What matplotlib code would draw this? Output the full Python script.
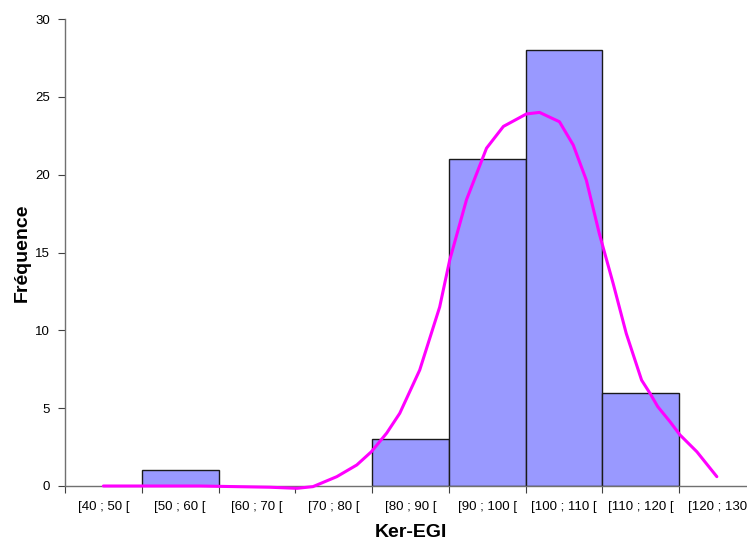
import matplotlib
matplotlib.use("Agg")
import matplotlib.pyplot as plt
import numpy as np

plt.rcParams['font.family'] = ['Liberation Sans', 'DejaVu Sans']

# histogram classes (Ker-EGI) and counts
bin_edges = [40, 50, 60, 70, 80, 90, 100, 110, 120, 130]
class_labels = ["[40 ; 50 [", "[50 ; 60 [", "[60 ; 70 [", "[70 ; 80 [", "[80 ; 90 [",
                "[90 ; 100 [", "[100 ; 110 [", "[110 ; 120 [", "[120 ; 130"]
counts = [0, 1, 0, 0, 3, 21, 28, 6, 0]

# fitted curve
curve_x = [45.0, 57.6, 66.7, 70.2, 72.3, 75.4, 78.0, 79.9, 81.9, 83.6, 86.2, 88.8,
           90.1, 92.3, 94.9, 97.1, 100.1, 101.8, 104.4, 106.2, 107.9, 109.6, 111.4,
           113.1, 115.1, 116.2, 117.2, 118.8, 120.1, 122.3, 124.9]
curve_y = [0.0, 0.0, -0.08, -0.15, -0.04, 0.6, 1.35, 2.2, 3.4, 4.67, 7.45, 11.5,
           14.5, 18.4, 21.7, 23.1, 23.9, 24.0, 23.4, 21.9, 19.65, 16.2, 13.0,
           9.8, 6.8, 5.95, 5.1, 4.13, 3.28, 2.2, 0.6]

fig = plt.figure(figsize=(7.47, 5.44), dpi=100)
ax = fig.add_axes([65 / 747, 58 / 544, 691 / 747, 467 / 544])

edges = np.array(bin_edges, dtype=float)
centers = (edges[:-1] + edges[1:]) / 2
counts_arr = np.array(counts)
mask = counts_arr > 0
ax.bar(centers[mask], counts_arr[mask], width=10, color='#9999FF',
       edgecolor='#1a1a1a', linewidth=1.0, zorder=2)

ax.plot(curve_x, curve_y, color='#FF00FF', linewidth=2.2, zorder=3,
        solid_joinstyle='round', solid_capstyle='round', clip_on=False)

ax.set_xlim(edges[0], edges[-1])
ax.set_ylim(0, 30)
ax.set_yticks(np.arange(0, 31, 5))
ax.set_xticks(edges)
ax.set_xticklabels([])
ax.set_xticks(centers, minor=True)
ax.set_xticklabels(class_labels, minor=True)
ax.tick_params(axis='x', which='minor', length=0, pad=11, labelsize=9.5)
ax.tick_params(axis='x', which='major', length=5, direction='out', color='#404040')
ax.tick_params(axis='y', length=5, direction='out', labelsize=9.5, color='#404040', pad=6)

for side in ['top', 'right']:
    ax.spines[side].set_visible(False)
for side in ['left', 'bottom']:
    ax.spines[side].set_color('#707070')
    ax.spines[side].set_linewidth(1.0)

ax.set_ylabel("Fréquence", fontsize=14, fontweight='bold', labelpad=3)
ax.set_xlabel("Ker-EGI", fontsize=14, fontweight='bold', labelpad=8)

plt.savefig("out.png", dpi=100)
